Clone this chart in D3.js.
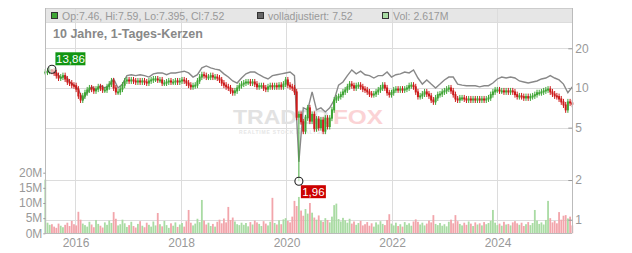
<!DOCTYPE html>
<html>
<head>
<meta charset="utf-8">
<script src="https://cdn.jsdelivr.net/npm/d3@7"></script>
<style>
html, body { margin: 0; padding: 0; background: #fff; }
svg { display: block; font-family: "Liberation Sans", Arial, sans-serif; }
</style>
</head>
<body>
<svg id="chart" width="632" height="253"></svg>
<script>
// --- Data (semi-monthly samples) ---
const startDate = new Date(2015, 5, 6);
const endDate = new Date(2025, 5, 2);

const closes = [
    13.2, 13.4, 13.7, 13.4, 13.0, 12.4, 11.9, 12.1, 12.4, 11.7,
    11.1, 10.9, 10.5, 10.4, 9.8, 8.7, 8.1, 8.7, 9.2, 9.66,
    10.0, 9.8, 9.5, 9.8, 10.2, 10.0, 9.66, 9.66, 10.2, 10.7,
    11.3, 10.0, 9.33, 9.33, 9.8, 10.5, 11.3, 11.5, 11.3, 11.5,
    11.3, 11.1, 11.3, 11.1, 11.3, 11.1, 10.9, 11.3, 11.5, 11.7,
    11.7, 11.5, 11.5, 10.9, 10.9, 11.1, 11.3, 11.1, 11.1, 11.3,
    11.1, 11.3, 11.5, 11.3, 10.9, 10.5, 10.2, 10.4, 10.5, 11.3,
    12.1, 12.6, 12.4, 12.1, 12.1, 12.4, 12.1, 12.1, 11.9, 11.5,
    10.9, 10.5, 10.2, 10.0, 9.5, 9.2, 9.5, 10.0, 10.4, 10.7,
    10.9, 11.1, 11.1, 10.9, 11.1, 10.7, 10.2, 10.4, 10.4, 10.0,
    9.8, 10.2, 10.4, 10.2, 10.4, 10.2, 10.5, 10.2, 10.7, 11.5,
    10.5, 10.2, 10.0, 9.33, 6.0, 6.3, 5.54, 4.7, 5.93, 7.06,
    5.6, 6.3, 4.9, 5.8, 5.0, 5.7, 4.7, 5.9, 5.1, 5.9,
    6.82, 8.1, 8.4, 8.6, 8.9, 9.33, 9.66, 10.2, 10.7, 10.4,
    10.0, 10.4, 10.5, 10.2, 9.8, 9.66, 9.33, 9.0, 8.9, 9.0,
    9.33, 9.66, 10.0, 10.5, 10.0, 9.2, 8.9, 9.2, 9.66, 9.8,
    9.66, 9.8, 9.66, 9.8, 10.0, 10.4, 10.5, 10.2, 9.33, 8.6,
    8.7, 9.0, 9.33, 9.0, 8.7, 8.1, 7.84, 8.4, 8.9, 9.0,
    9.33, 9.5, 9.8, 10.0, 9.5, 8.9, 8.25, 8.1, 8.4, 8.4,
    8.25, 8.1, 8.25, 8.1, 8.25, 8.1, 8.25, 8.1, 8.25, 8.1,
    8.25, 8.4, 8.9, 9.33, 9.66, 9.66, 9.5, 9.5, 9.33, 9.5,
    9.33, 9.5, 9.33, 8.9, 8.6, 8.7, 8.6, 8.4, 8.6, 8.4,
    8.6, 8.7, 8.9, 9.2, 9.2, 9.33, 9.5, 9.66, 9.8, 9.33,
    9.0, 8.7, 8.6, 8.25, 7.84, 7.43, 6.82, 7.84, 7.7, 7.52
];

// volume in millions, same dates as closes
const volumes = [
    17.7, 3.5, 2.8, 3.0, 2.2, 1.8, 3.2, 2.5, 2.0, 2.8,
    3.5, 2.4, 4.1, 3.0, 2.6, 7.1, 4.5, 3.2, 2.7, 2.2,
    3.8, 2.9, 2.0, 4.4, 3.1, 2.5, 1.9, 3.6, 2.8, 4.2,
    3.4, 7.0, 4.8, 2.6, 3.0, 4.5, 3.3, 2.1, 2.7, 3.8,
    2.4, 1.9, 3.1, 4.0, 2.5, 2.0, 3.5, 2.8, 2.2, 3.9,
    2.6, 6.7, 3.0, 2.3, 4.1, 2.7, 1.8, 3.3, 2.5, 3.6,
    2.1, 2.9, 3.4, 2.2, 4.0, 7.7, 3.5, 2.6, 3.2, 4.8,
    3.7, 11.0, 4.2, 2.9, 3.5, 2.4, 3.1, 2.2, 3.8, 4.5,
    3.3, 4.9, 3.6, 8.7, 4.4, 5.2, 3.9, 3.0, 2.7, 3.5,
    2.8, 3.4, 2.3, 3.7, 2.9, 4.2, 3.6, 3.1, 2.4, 4.0,
    3.2, 2.6, 3.8, 11.7, 3.4, 2.9, 4.3, 3.0, 4.6, 5.0,
    4.1, 3.6, 5.5, 10.7, 9.0, 12.0, 7.5, 5.8, 8.0, 6.5,
    10.0, 6.8, 5.2, 4.5, 5.9, 4.2, 3.8, 5.0, 4.4, 3.6,
    5.5, 9.3, 9.8, 4.7, 3.9, 5.1, 4.3, 3.5, 4.8, 3.2,
    3.9, 2.8, 3.4, 4.1, 2.6, 3.0, 3.7, 2.5, 3.3, 2.2,
    3.6, 2.9, 4.0, 3.1, 2.7, 4.4, 6.3, 3.2, 2.6, 3.5,
    2.4, 3.0, 2.2, 3.7, 2.8, 3.3, 2.5, 3.9, 4.6, 3.8,
    2.9, 3.5, 2.6, 3.2, 4.2, 3.6, 6.0, 3.1, 2.7, 3.4,
    2.5, 3.0, 2.3, 3.8, 4.5, 3.3, 6.0, 4.0, 3.1, 2.6,
    3.5, 2.8, 3.9, 3.2, 2.4, 3.6, 2.9, 3.3, 2.6, 3.7,
    3.0, 3.4, 4.1, 7.7, 3.5, 2.7, 3.2, 2.5, 3.8, 2.9,
    3.1, 2.6, 3.6, 4.0, 3.3, 2.8, 3.5, 2.4, 3.0, 3.7,
    2.7, 3.4, 7.7, 4.2, 3.1, 3.6, 2.9, 4.4, 10.7, 5.0,
    3.6, 4.1, 3.3, 7.0, 4.5, 5.8, 6.0, 4.9, 5.5, 2.6
];

// "volladjustiert" line, monthly (every second date)
const adjusted = [
    13.2, 13.7, 13.0, 11.9, 12.4, 11.1, 10.5, 9.8, 8.1, 9.2,
    10.2, 9.66, 10.4, 10.0, 10.5, 11.7, 10.0, 10.7, 12.4, 12.6,
    12.4, 12.6, 12.4, 12.1, 12.8, 13.0, 13.0, 12.6, 13.0, 13.0,
    13.2, 13.4, 13.0, 12.1, 12.6, 14.2, 14.7, 14.2, 13.9, 13.7,
    12.8, 12.1, 11.3, 10.9, 11.9, 12.8, 13.2, 13.2, 12.6, 12.1,
    11.7, 12.4, 12.6, 12.8, 13.0, 13.2, 12.4, 2.75, 7.06, 6.82,
    9.33, 6.82, 7.06, 6.58, 7.06, 8.1, 10.5, 11.1, 12.4, 13.7,
    12.8, 13.4, 12.6, 12.4, 11.9, 12.4, 12.4, 13.2, 12.1, 12.6,
    12.8, 13.2, 13.0, 13.7, 11.9, 10.7, 11.5, 10.7, 10.0, 10.7,
    11.5, 12.1, 12.1, 10.7, 10.5, 10.4, 10.4, 10.4, 10.2, 10.4,
    10.4, 10.9, 11.7, 12.1, 11.9, 12.1, 11.9, 11.3, 11.1, 10.9,
    11.1, 11.3, 11.7, 11.9, 12.4, 11.9, 11.5, 10.7, 9.2, 10.2
];

const priceTicks = [20, 10, 5, 2, 1];
const volumeTicks = [0, 5, 10, 15, 20];
const yearTicks = [2016, 2018, 2020, 2022, 2024];

const highMark = { index: 3, value: 13.86, label: '13,86' };
const lowMark = { index: 115, value: 1.96, label: '1,96' };

const legendItems = [
    { text: 'Op:7.46, Hi:7.59, Lo:7.395, Cl:7.52', fill: '#3fa535', x: 51 },
    { text: 'volladjustiert: 7.52', fill: '#666', x: 257 },
    { text: 'Vol: 2.617M', fill: '#a9dba3', x: 382 }
];
const title = '10 Jahre, 1-Tages-Kerzen';

// --- Layout ---
const plotLeft = 45.3, plotRight = 572.3, plotTop = 8, plotBottom = 233.3;
const upColor = '#3fa535', downColor = '#cc1a1a';
const upVol = '#a9dba3', downVol = '#f2a5ab';
const gridColor = '#dcdcdc', textColor = '#999';
const wick = 3;

const svg = d3.select('#chart');

const dates = closes.map((_, i) => new Date(+startDate + i * (endDate - startDate) / (closes.length - 1)));
const opens = closes.map((c, i) => i ? closes[i - 1] : c);
const adjDates = adjusted.map((_, j) => dates[Math.min(2 * j + 1, dates.length - 1)]);

const x = d3.scaleTime().domain([startDate, endDate]).range([plotLeft, plotRight]);
const y = d3.scaleLog().domain([1, 20]).range([219.7, 48.3]);
const yv = d3.scaleLinear().domain([0, 20]).range([plotBottom, 172.7]);

// legend band
svg.append('rect')
    .attr('x', plotLeft).attr('y', plotTop)
    .attr('width', plotRight - plotLeft).attr('height', 14.5)
    .attr('fill', '#e6e6e6');

// grid
const grid = svg.append('g').attr('shape-rendering', 'crispEdges');
grid.selectAll('.gx')
    .data(yearTicks)
    .enter().append('line')
    .attr('x1', d => Math.round(x(new Date(d, 0, 1))) + 0.5)
    .attr('x2', d => Math.round(x(new Date(d, 0, 1))) + 0.5)
    .attr('y1', plotTop).attr('y2', plotBottom)
    .attr('stroke', gridColor);
grid.selectAll('.gy')
    .data(priceTicks)
    .enter().append('line')
    .attr('x1', plotLeft).attr('x2', plotRight)
    .attr('y1', d => Math.round(y(d)) + 0.5)
    .attr('y2', d => Math.round(y(d)) + 0.5)
    .attr('stroke', gridColor);
grid.append('line')
    .attr('x1', plotLeft).attr('x2', plotRight)
    .attr('y1', plotTop + 14.5).attr('y2', plotTop + 14.5)
    .attr('stroke', gridColor);

// watermark
const wm = svg.append('g');
wm.append('text')
    .attr('x', 233).attr('y', 124)
    .attr('font-size', 20).attr('font-weight', 'bold')
    .attr('fill', '#e2e2e2')
    .attr('textLength', 96).attr('lengthAdjust', 'spacingAndGlyphs')
    .text('TRADER');
wm.append('text')
    .attr('x', 333).attr('y', 124)
    .attr('font-size', 20).attr('font-weight', 'bold')
    .attr('fill', '#fbd3d5')
    .attr('textLength', 50).attr('lengthAdjust', 'spacingAndGlyphs')
    .text('FOX');
wm.append('text')
    .attr('x', 239).attr('y', 134)
    .attr('font-size', 5).attr('font-weight', 'bold')
    .attr('fill', '#e6e6e6')
    .attr('letter-spacing', 0.8)
    .text('REALTIME STOCK ANALYSIS');

// volume bars
const barW = 1.8;
svg.append('g')
    .selectAll('rect')
    .data(volumes)
    .enter().append('rect')
    .attr('x', (d, i) => x(dates[i]) - barW / 2)
    .attr('y', d => yv(d))
    .attr('width', barW)
    .attr('height', d => plotBottom - yv(d))
    .attr('fill', (d, i) => closes[i] >= opens[i] ? upVol : downVol);

// adjusted line
svg.append('path')
    .datum(adjusted)
    .attr('fill', 'none')
    .attr('stroke', '#888')
    .attr('stroke-width', 1.4)
    .attr('d', d3.line().x((d, j) => x(adjDates[j])).y(d => y(d)));

// candles
const candles = svg.append('g')
    .selectAll('g')
    .data(closes)
    .enter().append('g');

candles.append('line')
    .attr('x1', (d, i) => x(dates[i]))
    .attr('x2', (d, i) => x(dates[i]))
    .attr('y1', (d, i) => i === highMark.index ? y(highMark.value) : y(Math.max(d, opens[i])) - wick)
    .attr('y2', (d, i) => i === lowMark.index ? y(lowMark.value) : y(Math.min(d, opens[i])) + wick)
    .attr('stroke', (d, i) => d >= opens[i] ? upColor : downColor)
    .attr('stroke-width', 1);

candles.append('rect')
    .attr('x', (d, i) => x(dates[i]) - 1)
    .attr('y', (d, i) => y(Math.max(d, opens[i])) - 0.5)
    .attr('width', 2)
    .attr('height', (d, i) => Math.max(2, y(Math.min(d, opens[i])) - y(Math.max(d, opens[i])) + 1))
    .attr('fill', (d, i) => d >= opens[i] ? upColor : downColor);

// high / low markers
function addMarker(m, color, dx, dy, w) {
    const mx = x(dates[m.index]);
    const my = y(m.value);
    svg.append('circle')
        .attr('cx', mx).attr('cy', my).attr('r', 4)
        .attr('fill', 'rgba(255,255,255,0.6)')
        .attr('stroke', '#222').attr('stroke-width', 1.1);
    svg.append('rect')
        .attr('x', mx + dx).attr('y', my + dy)
        .attr('width', w).attr('height', 13)
        .attr('fill', color);
    svg.append('text')
        .attr('x', mx + dx + w / 2).attr('y', my + dy + 10.5)
        .attr('text-anchor', 'middle')
        .attr('font-size', 11.5)
        .attr('fill', '#fff')
        .text(m.label);
}
addMarker(highMark, '#129612', 3.5, -17, 30);
addMarker(lowMark, '#cc0000', 2, 4, 25);

// frame
const frame = svg.append('g').attr('shape-rendering', 'crispEdges').attr('stroke', '#bbb');
frame.append('line').attr('x1', plotLeft).attr('x2', plotRight).attr('y1', plotTop + 0.5).attr('y2', plotTop + 0.5).attr('stroke', '#ccc');
frame.append('line').attr('x1', plotLeft).attr('x2', plotLeft).attr('y1', plotTop).attr('y2', plotBottom);
frame.append('line').attr('x1', plotRight).attr('x2', plotRight).attr('y1', plotTop).attr('y2', plotBottom);
frame.append('line').attr('x1', plotLeft).attr('x2', plotRight).attr('y1', plotBottom).attr('y2', plotBottom);

// axes
const priceAxis = svg.append('g')
    .attr('transform', `translate(${plotRight},0)`)
    .call(d3.axisRight(y).tickValues(priceTicks).tickFormat(d3.format('d')).tickSize(-4).tickSizeOuter(0).tickPadding(3));
const volAxis = svg.append('g')
    .attr('transform', `translate(${plotLeft},0)`)
    .call(d3.axisLeft(yv).tickValues(volumeTicks).tickFormat(d => d + 'M').tickSize(2).tickSizeOuter(0).tickPadding(1));
const timeAxis = svg.append('g')
    .attr('transform', `translate(0,${plotBottom})`)
    .call(d3.axisBottom(x).tickValues(yearTicks.map(d => new Date(d, 0, 1))).tickFormat(d3.timeFormat('%Y')).tickSize(0).tickPadding(5.5));

[priceAxis, volAxis, timeAxis].forEach(a => {
    a.select('.domain').remove();
    a.selectAll('line').attr('stroke', '#999');
    a.selectAll('text').attr('fill', textColor).attr('font-size', 12).attr('font-family', '"Liberation Sans", Arial, sans-serif');
});

// legend
const legend = svg.append('g');
legendItems.forEach(item => {
    legend.append('rect')
        .attr('x', item.x + 0.5).attr('y', 12.5)
        .attr('width', 6).attr('height', 6)
        .attr('fill', item.fill)
        .attr('stroke', '#333').attr('stroke-width', 1);
    legend.append('text')
        .attr('x', item.x + 11).attr('y', 19.5)
        .attr('font-size', 10.5)
        .attr('fill', textColor)
        .text(item.text);
});

// title
svg.append('text')
    .attr('x', 53).attr('y', 37.5)
    .attr('font-size', 12.5).attr('font-weight', 'bold')
    .attr('fill', '#888')
    .text(title);
</script>
</body>
</html>
